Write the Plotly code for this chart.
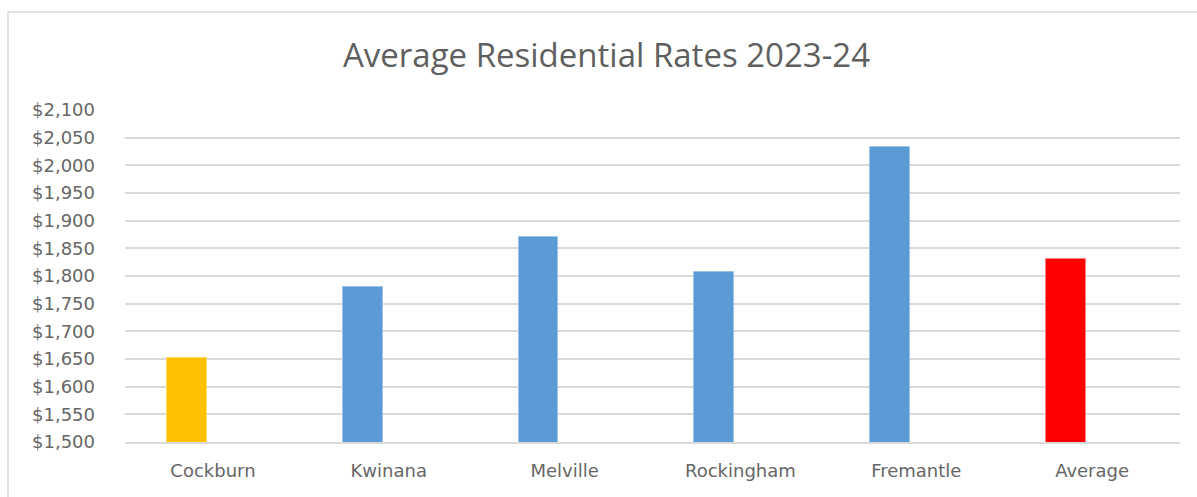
import plotly.graph_objects as go

categories = ["Cockburn", "Kwinana", "Melville", "Rockingham", "Fremantle", "Average"]
values = [1652, 1780, 1870, 1808, 2033, 1830]
colors = ["#FFC000", "#5B9BD5", "#5B9BD5", "#5B9BD5", "#5B9BD5", "#FF0000"]
line_colors = ["#FFD966", "#9DC3E6", "#9DC3E6", "#9DC3E6", "#9DC3E6", "#FF7F7F"]
y_ticks = list(range(1500, 2101, 50))

W, H = 1197, 497
L, R, T, B = 125, 17, 110, 55
pw, ph = W - L - R, H - T - B

fig = go.Figure()
fig.add_trace(go.Bar(
    x=categories, y=values,
    marker=dict(color=colors, line=dict(color=line_colors, width=1)),
    width=0.227, offset=-0.262,
    hoverinfo="x+y",
))

fig.update_layout(
    width=W, height=H,
    margin=dict(l=L, r=R, t=T, b=B),
    paper_bgcolor="white", plot_bgcolor="white",
    showlegend=False,
    font=dict(family="'DejaVu Sans', sans-serif", color="#666666", size=17),
    title=dict(text="Average Residential Rates 2023-24", x=606.5 / W, xanchor="center",
               y=1 - 55 / H, yanchor="middle",
               font=dict(size=33, color="#5f5f5f", family="'Open Sans', sans-serif")),
    bargap=0,
    shapes=[dict(type="rect", xref="paper", yref="paper",
                 x0=(8 - L) / pw, x1=1.2, y0=-0.4, y1=(H - B - 12) / ph,
                 line=dict(color="#D9D9D9", width=1.5), fillcolor="rgba(0,0,0,0)", layer="below")],
)
fig.update_yaxes(
    range=[1500, 2100], tickvals=y_ticks,
    ticktext=["${:,}".format(v) for v in y_ticks],
    showgrid=True, gridcolor="#D9D9D9", gridwidth=1.5,
    zeroline=False, showline=False, ticks="", ticklabelstandoff=29,
    tickfont=dict(size=18, color="#666666"), fixedrange=True,
)
fig.update_xaxes(
    type="category", showgrid=False, showline=True, linecolor="#D9D9D9", linewidth=1.5,
    ticks="", ticklabelstandoff=12, tickfont=dict(size=18, color="#666666"),
    range=[-0.5, 5.5], fixedrange=True,
)
fig.write_html("out.html")
